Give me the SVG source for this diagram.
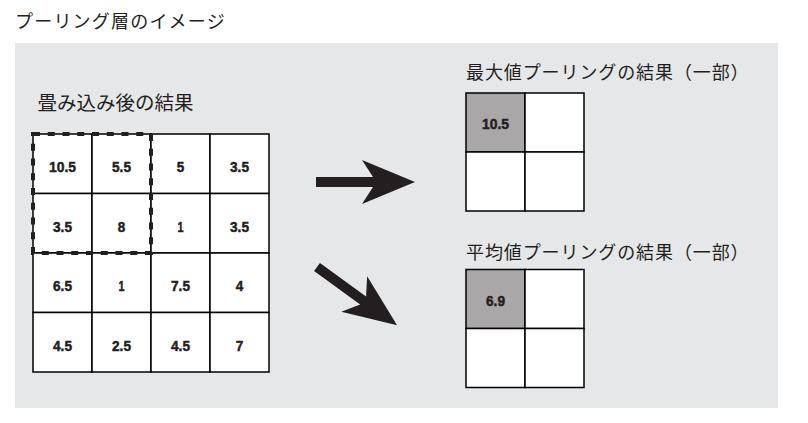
<svg xmlns="http://www.w3.org/2000/svg" width="808" height="423" viewBox="0 0 808 423">
<style>
.jp{font-family:"Noto Sans CJK JP","Noto Sans",sans-serif;fill:#231f20}
.num{font-family:"Liberation Sans",Arial,sans-serif;font-weight:bold;font-size:15.5px;fill:#231f20;stroke:#231f20;stroke-width:0.5;text-anchor:middle}
.cell{fill:#fff;stroke:#000;stroke-width:1.5}
.hl{fill:#a9a7a8;stroke:#000;stroke-width:1.5}
.arrow{fill:#231f20}
</style>
<defs>
<path id="arr" d="M0,-5 L57,-5 L46,-22 L99,0 L46,22 L57,5 L0,5 Z"/>
</defs>
<rect width="808" height="423" fill="#fff"/>
<text class="jp" x="15" y="28" font-size="18" letter-spacing="1.2">プーリング層のイメージ</text>
<rect x="15" y="43" width="763" height="365" fill="#e6e7e8"/>

<g id="conv-result">
<text class="jp" x="37.5" y="109.5" font-size="19.5">畳み込み後の結果</text>
<g id="conv-grid">
<rect class="cell" x="33" y="134" width="59" height="59.5"/>
<rect class="cell" x="92" y="134" width="59" height="59.5"/>
<rect class="cell" x="151" y="134" width="59" height="59.5"/>
<rect class="cell" x="210" y="134" width="59" height="59.5"/>
<rect class="cell" x="33" y="193.5" width="59" height="59.5"/>
<rect class="cell" x="92" y="193.5" width="59" height="59.5"/>
<rect class="cell" x="151" y="193.5" width="59" height="59.5"/>
<rect class="cell" x="210" y="193.5" width="59" height="59.5"/>
<rect class="cell" x="33" y="253" width="59" height="59.5"/>
<rect class="cell" x="92" y="253" width="59" height="59.5"/>
<rect class="cell" x="151" y="253" width="59" height="59.5"/>
<rect class="cell" x="210" y="253" width="59" height="59.5"/>
<rect class="cell" x="33" y="312.5" width="59" height="59.5"/>
<rect class="cell" x="92" y="312.5" width="59" height="59.5"/>
<rect class="cell" x="151" y="312.5" width="59" height="59.5"/>
<rect class="cell" x="210" y="312.5" width="59" height="59.5"/>
<text class="num" x="62.5" y="172" textLength="27" lengthAdjust="spacingAndGlyphs">10.5</text>
<text class="num" x="121.5" y="172" textLength="19" lengthAdjust="spacingAndGlyphs">5.5</text>
<text class="num" x="180.5" y="172" textLength="7.5" lengthAdjust="spacingAndGlyphs">5</text>
<text class="num" x="239.5" y="172" textLength="19" lengthAdjust="spacingAndGlyphs">3.5</text>
<text class="num" x="62.5" y="231.5" textLength="19" lengthAdjust="spacingAndGlyphs">3.5</text>
<text class="num" x="121.5" y="231.5" textLength="7.5" lengthAdjust="spacingAndGlyphs">8</text>
<text class="num" x="180.5" y="231.5" textLength="6" lengthAdjust="spacingAndGlyphs">1</text>
<text class="num" x="239.5" y="231.5" textLength="19" lengthAdjust="spacingAndGlyphs">3.5</text>
<text class="num" x="62.5" y="291" textLength="19" lengthAdjust="spacingAndGlyphs">6.5</text>
<text class="num" x="121.5" y="291" textLength="6" lengthAdjust="spacingAndGlyphs">1</text>
<text class="num" x="180.5" y="291" textLength="19" lengthAdjust="spacingAndGlyphs">7.5</text>
<text class="num" x="239.5" y="291" textLength="7.5" lengthAdjust="spacingAndGlyphs">4</text>
<text class="num" x="62.5" y="350.5" textLength="19" lengthAdjust="spacingAndGlyphs">4.5</text>
<text class="num" x="121.5" y="350.5" textLength="19" lengthAdjust="spacingAndGlyphs">2.5</text>
<text class="num" x="180.5" y="350.5" textLength="19" lengthAdjust="spacingAndGlyphs">4.5</text>
<text class="num" x="239.5" y="350.5" textLength="7.5" lengthAdjust="spacingAndGlyphs">7</text>
</g>
<rect id="window" x="33" y="134" width="118" height="119" fill="none" stroke="#231f20" stroke-width="4" stroke-dasharray="7 7.75"/>
</g>

<g id="connectors">
<use href="#arr" class="arrow" transform="translate(316,182)"/>
<use href="#arr" class="arrow" transform="translate(317,267) rotate(36)"/>
</g>

<g id="max-pool">
<text class="jp" x="466" y="79" font-size="18" letter-spacing="0.9">最大値プーリングの結果（一部）</text>
<rect class="hl" x="466" y="93" width="59" height="59"/>
<rect class="cell" x="525" y="93" width="59" height="59"/>
<rect class="cell" x="466" y="152" width="59" height="59"/>
<rect class="cell" x="525" y="152" width="59" height="59"/>
<text class="num" x="495.5" y="129" textLength="27" lengthAdjust="spacingAndGlyphs">10.5</text>
</g>

<g id="avg-pool">
<text class="jp" x="466" y="259" font-size="18" letter-spacing="0.9">平均値プーリングの結果（一部）</text>
<rect class="hl" x="466" y="269.5" width="59" height="59"/>
<rect class="cell" x="525" y="269.5" width="59" height="59"/>
<rect class="cell" x="466" y="328.5" width="59" height="59"/>
<rect class="cell" x="525" y="328.5" width="59" height="59"/>
<text class="num" x="495.5" y="306" textLength="19" lengthAdjust="spacingAndGlyphs">6.9</text>
</g>
</svg>
